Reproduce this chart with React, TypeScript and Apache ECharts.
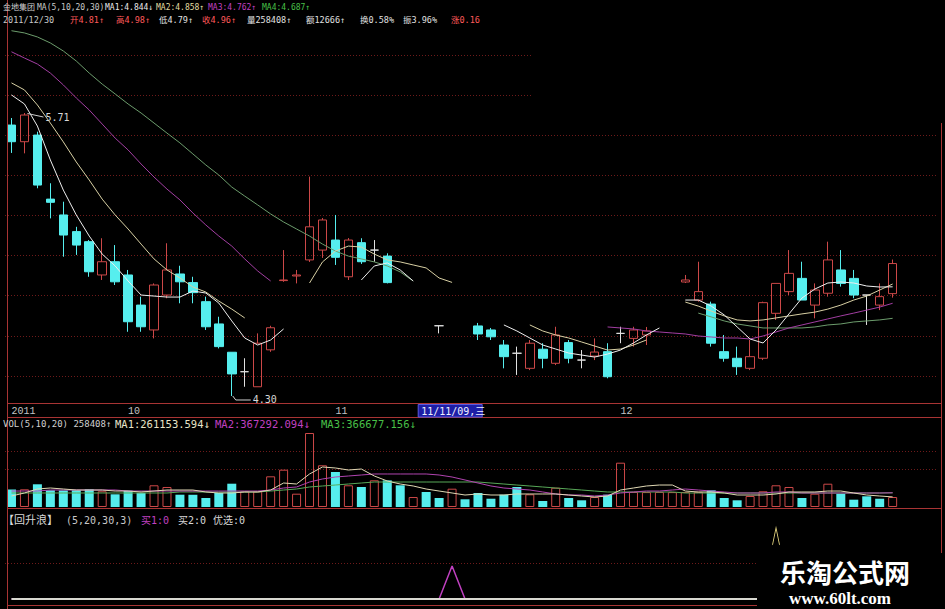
import React, { useEffect, useRef } from "react";
import * as echarts from "echarts";

// ---------------- data ----------------
const dates = [
  "2011/09/20","2011/09/21","2011/09/22","2011/09/23","2011/09/26","2011/09/27","2011/09/28","2011/09/29","2011/09/30",
  "2011/10/10","2011/10/11","2011/10/12","2011/10/13","2011/10/14","2011/10/17","2011/10/18","2011/10/19","2011/10/20","2011/10/21","2011/10/24","2011/10/25","2011/10/26","2011/10/27","2011/10/28","2011/10/31",
  "2011/11/01","2011/11/02","2011/11/03","2011/11/04","2011/11/07","2011/11/08","2011/11/09","2011/11/10","2011/11/11","2011/11/14","2011/11/15","2011/11/16","2011/11/17","2011/11/18","2011/11/21","2011/11/22","2011/11/23","2011/11/24","2011/11/25","2011/11/28","2011/11/29","2011/11/30",
  "2011/12/01","2011/12/02","2011/12/05","2011/12/06","2011/12/07","2011/12/08","2011/12/09","2011/12/12","2011/12/13","2011/12/14","2011/12/15","2011/12/16","2011/12/19","2011/12/20","2011/12/21","2011/12/22","2011/12/23","2011/12/26","2011/12/27","2011/12/28","2011/12/29","2011/12/30",
  "2012/01/04","2012/01/05","2012/01/06"
];

const opens = [
  5.650,5.567,5.600,5.281,5.202,5.119,5.069,4.903,4.969,4.903,
  4.753,4.629,4.803,4.908,4.865,4.770,4.659,4.518,4.421,4.346,
  4.530,4.875,4.898,4.978,5.027,5.077,4.894,5.064,5.027,4.997,
  null,null,null,4.650,null,null,4.649,4.629,4.554,4.513,
  4.438,4.533,4.463,4.566,4.479,4.499,4.521,4.612,4.587,4.604,
  null,null,4.868,4.778,4.758,4.521,4.488,4.438,4.488,4.712,
  4.820,4.886,4.753,4.812,4.928,4.886,4.803,4.753,4.81
];
const closes = [
  5.567,5.700,5.351,5.265,5.102,5.052,4.919,4.969,4.869,4.670,
  4.645,4.853,4.928,4.869,4.815,4.645,4.546,4.410,4.421,4.563,
  4.640,4.878,4.903,5.143,5.177,4.991,5.077,4.969,5.027,4.865,
  null,null,null,4.650,null,null,4.609,4.595,4.496,4.513,
  4.563,4.488,4.604,4.488,4.479,4.519,4.396,4.612,4.629,4.624,
  null,null,4.878,4.820,4.563,4.488,4.446,4.496,4.765,4.861,
  4.911,4.778,4.828,4.978,4.861,4.803,4.803,4.795,4.96
];
const lows = [
  5.511,5.509,5.335,5.185,4.994,5.003,4.894,4.878,4.853,4.620,
  4.620,4.587,4.787,4.762,4.762,4.629,4.537,4.30,4.346,4.346,
  4.520,4.869,4.861,4.968,4.988,4.953,4.878,4.958,4.969,4.861,
  null,null,null,4.612,null,null,4.579,4.579,4.438,4.405,
  4.429,4.438,4.454,4.463,4.438,4.479,4.388,4.563,4.546,4.554,
  null,null,4.863,4.770,4.546,4.471,4.405,4.429,4.479,4.679,
  4.803,4.778,4.687,4.795,4.845,4.787,4.654,4.728,4.79
];
const highs = [
  5.685,5.71,5.617,5.360,5.268,5.143,5.077,5.086,5.052,4.928,
  4.795,4.861,5.061,4.949,4.894,4.795,4.695,4.518,4.488,4.612,
  4.650,5.027,4.928,5.393,5.187,5.202,5.087,5.086,5.077,5.011,
  null,null,null,4.650,null,null,4.664,4.639,4.579,4.546,
  4.579,4.563,4.645,4.579,4.529,4.587,4.563,4.645,4.645,4.644,
  null,null,4.903,4.969,4.770,4.604,4.546,4.579,4.770,4.861,
  5.027,4.969,4.861,5.069,5.027,4.928,4.803,4.861,4.98
];

const ma5 = [
  5.800,5.755,5.645,5.476,5.326,5.202,5.097,5.007,4.948,4.873,
  4.803,4.798,4.793,4.793,4.823,4.813,4.763,4.674,4.589,4.554,
  4.579,4.634,null,null,null,null,null,4.878,4.948,4.963,
  4.928,4.873,null,null,null,null,null,null,4.654,4.624,
  4.589,4.554,4.534,4.514,4.504,4.494,4.509,4.529,4.564,4.604,
  4.639,null,4.778,4.778,4.748,4.704,4.644,4.584,4.564,4.629,
  4.709,4.788,4.833,4.863,4.868,4.863,4.848,4.843,4.844
];
const ma10 = [
  5.860,5.825,5.750,5.660,5.566,5.466,5.376,5.281,5.202,5.132,
  5.057,4.983,4.928,4.888,4.843,4.818,4.773,4.733,4.689,null,
  null,null,null,4.863,4.968,5.022,5.047,5.042,5.007,4.978,
  4.968,4.953,4.938,4.888,4.866,null,null,null,null,null,
  4.654,4.624,4.604,4.589,4.569,4.549,4.529,4.534,4.554,4.579,
  null,null,4.768,4.748,4.723,4.699,4.679,4.674,4.679,4.689,
  4.699,4.709,4.718,4.733,4.753,4.778,4.798,4.828,4.858
];
const ma20 = [
  6.015,5.984,5.954,5.909,5.850,5.785,5.725,5.655,5.585,5.526,
  5.456,5.391,5.331,5.277,5.212,5.152,5.097,5.047,4.983,4.923,
  4.873,null,null,null,null,null,null,null,null,null,
  null,null,null,null,null,null,null,null,null,null,
  null,null,null,null,null,null,4.644,4.639,4.634,4.624,
  4.619,4.614,4.609,4.599,4.594,4.589,4.589,4.584,4.599,4.619,
  4.639,4.654,4.669,4.684,4.699,4.713,4.728,4.743,4.762
];
const ma30 = [
  6.120,6.109,6.089,6.059,6.019,5.969,5.909,5.854,5.805,5.755,
  5.710,5.660,5.610,5.561,5.506,5.451,5.401,5.341,5.296,5.252,
  5.207,5.167,5.132,5.097,5.057,5.022,4.997,4.983,4.968,4.948,
  4.918,4.873,null,null,null,null,null,null,null,null,
  null,null,null,null,null,null,null,null,null,null,
  null,null,null,4.713,4.694,4.674,4.659,4.649,4.639,4.639,
  4.639,4.639,4.644,4.654,4.659,4.669,4.674,4.679,4.687
];

// volume, thousands of shares
const volumes = [
  450,457,587,432,428,433,457,406,328,421,
  362,561,517,318,316,233,362,602,406,404,
  793,964,344,1912,1078,904,561,517,690,688,
  561,258,388,233,473,199,362,214,318,517,
  328,155,499,233,173,258,318,1145,388,386,
  390,385,388,392,431,233,173,284,406,561,
  517,233,344,602,344,189,276,214,258.408
];
const volUp = [
  0,1,0,0,0,0,0,1,0,0,
  0,1,1,0,0,0,0,0,1,1,
  1,1,1,1,1,0,1,0,1,0,
  0,1,0,0,1,0,0,0,0,0,
  1,0,1,0,0,1,0,1,1,1,
  1,1,1,1,0,0,0,1,1,1,
  1,0,1,1,0,0,0,0,1
];
const volMa5 = [
  284,362,465,491,465,439,439,439,413,413,
  388,413,439,439,439,388,362,362,388,388,
  439,620,594,853,1034,1008,956,982,801,672,
  594,543,465,413,362,310,336,310,310,336,
  336,336,336,310,284,258,284,439,491,543,
  568,568,413,388,388,362,310,310,310,336,
  388,388,388,413,413,362,310,284,261.2
];
const volMa10 = [
  413,413,413,439,439,439,439,439,439,413,
  413,413,413,413,413,413,413,413,413,413,
  439,491,517,646,724,775,801,827,853,853,
  853,853,853,827,775,698,620,543,491,465,
  439,388,336,310,310,284,310,362,388,413,
  413,439,465,439,413,388,362,362,362,388,
  388,362,362,362,362,362,362,362,367.3
];
const volMa20 = [
  362,362,362,362,362,362,362,362,362,362,
  362,362,362,388,388,388,388,388,388,388,
  413,439,465,517,543,568,594,620,646,646,
  646,646,646,646,646,646,646,620,594,568,
  543,517,491,465,439,413,388,388,388,388,
  388,388,362,362,362,362,362,362,362,362,
  362,362,362,362,362,362,362,362,366.7
];

// 回升浪 indicator
const buy1 = [
  0,0,0,0,0,0,0,0,0,0, 0,0,0,0,0,0,0,0,0,0, 0,0,0,0,0,0,0,0,0,0,
  0,0,0,0,1,0,0,0,0,0, 0,0,0,0,0,0,0,0,0,0, 0,0,0,0,0,0,0,0,0,0,
  0,0,0,0,0,0,0,0,0
];
const buy2 = [
  0,0,0,0,0,0,0,0,0,0, 0,0,0,0,0,0,0,0,0,0, 0,0,0,0,0,0,0,0,0,0,
  0,0,0,0,0,0,0,0,0,0, 0,0,0,0,0,0,0,0,0,0, 0,0,0,0,0,0,0,0,0,0,
  0,0,0,0,0,0,0,0,0
];
const pickIndex = 59;
const pickLevel = 1.9;

const priceGridLevels = [4.4, 4.6, 4.8, 5.0, 5.2, 5.4, 5.6, 5.8, 6.0];
const volGridLevels = [974, 1439];
const indGridLevels = [1.09];

const cursorLabel = "11/11/09,三";

// ---------------- styles ----------------
const MONO = "'DejaVu Sans Mono','Noto Sans CJK SC',monospace";
const RED = "#cc4848";
const CYAN = "#56eeee";
const DOJI = "#e0e0e0";
const GRIDC = "#6e1a1a";
const BORDER = "#a83434";
const TRED = "#ff5a5a";
const MAG = "#c040c0";
const GRN = "#48c048";

function txt(x: number, y: number, text: string, fill: string, size: number, extra: any = {}) {
  return {
    type: "text",
    x,
    y,
    z: 100,
    silent: true,
    style: {
      text,
      fill,
      font: `${size}px ${MONO}`,
      textVerticalAlign: "middle",
      verticalAlign: "middle",
      ...extra,
    },
  };
}
function hline(y: number, x1: number, x2: number, color = BORDER, z = 5) {
  return { type: "line", z, silent: true, shape: { x1, y1: y, x2, y2: y }, style: { stroke: color, lineWidth: 1 } };
}
function vline(x: number, y1: number, y2: number, color = BORDER, z = 5) {
  return { type: "line", z, silent: true, shape: { x1: x, y1, x2: x, y2 }, style: { stroke: color, lineWidth: 1 } };
}

export default function App() {
  const ref = useRef<HTMLDivElement>(null);

  useEffect(() => {
    document.body.style.margin = "0";
    document.body.style.background = "#000";
    const chart = echarts.init(ref.current!, null, { renderer: "svg" });

    const candleData = opens.map((o, i) => {
      if (o == null) return ["-", "-", "-", "-"];
      const v = [o, closes[i], lows[i], highs[i]];
      if (o === closes[i]) {
        return { value: v, itemStyle: { color: DOJI, color0: DOJI, borderColor: DOJI, borderColor0: DOJI } };
      }
      return v;
    });
    const nz = (a: (number | null)[]) => a.map((v) => (v == null ? "-" : v));

    const isLabelIdx = (idx: number) =>
      idx === 0 || (idx < dates.length && dates[idx].slice(0, 7) !== dates[idx - 1].slice(0, 7));

    const xAxes = [0, 1, 2].map((g) => ({
      type: "category",
      gridIndex: g,
      data: dates,
      boundaryGap: true,
      axisLine: { show: false },
      axisTick: { show: false },
      splitLine: { show: false },
      axisLabel:
        g === 0
          ? {
              show: true,
              interval: (idx: number) => isLabelIdx(idx),
              showMinLabel: true,
              showMaxLabel: false,
              align: "left",
              margin: 3,
              color: "#c4c4c4",
              fontSize: 10,
              fontFamily: "'Liberation Mono','DejaVu Sans Mono',monospace",
              formatter: (val: string, idx: number) => {
                if (idx === 0 || val.slice(0, 4) !== dates[idx - 1].slice(0, 4)) return val.slice(0, 4);
                return String(parseInt(val.slice(5, 7), 10));
              },
            }
          : { show: false },
    }));

    const maLine = (name: string, data: any[], color: string, xi: number, width = 1) => ({
      name,
      type: "line",
      xAxisIndex: xi,
      yAxisIndex: xi,
      data,
      showSymbol: false,
      symbol: "none",
      connectNulls: false,
      z: 3,
      lineStyle: { color, width },
      silent: true,
    });

    const option: any = {
      animation: false,
      backgroundColor: "#000",
      grid: [
        { left: 5, top: 30, width: 933, height: 373 },
        { left: 5, top: 431, width: 933, height: 76 },
        { left: 5, top: 533, width: 933, height: 66 },
      ],
      xAxis: xAxes,
      yAxis: [
        { gridIndex: 0, type: "value", min: 4.2651, max: 6.1236, show: false },
        { gridIndex: 1, type: "value", min: 0, max: 1964, show: false },
        { gridIndex: 2, type: "value", min: 0, max: 2, show: false },
      ],
      series: [
        {
          name: "K",
          type: "candlestick",
          xAxisIndex: 0,
          yAxisIndex: 0,
          data: candleData,
          barWidth: 9,
          z: 2,
          silent: true,
          itemStyle: {
            color: "rgba(0,0,0,0)",
            color0: CYAN,
            borderColor: RED,
            borderColor0: CYAN,
            borderWidth: 1,
          },
          markLine: {
            silent: true,
            z: 1,
            symbol: ["none", "none"],
            label: { show: false },
            lineStyle: { color: GRIDC, type: [1, 2], width: 1 },
            data: priceGridLevels.map((v) => ({ yAxis: v })),
          },
        },
        maLine("MA30", nz(ma30), "#6c9c6c", 0),
        maLine("MA20", nz(ma20), "#a23ea2", 0),
        maLine("MA10", nz(ma10), "#d8d0a4", 0),
        maLine("MA5", nz(ma5), "#eeeeee", 0),
        {
          name: "VOL",
          type: "bar",
          xAxisIndex: 1,
          yAxisIndex: 1,
          barWidth: 9,
          silent: true,
          z: 2,
          data: volumes.map((v, i) => ({
            value: v,
            itemStyle: volUp[i]
              ? { color: "rgba(0,0,0,0)", borderColor: RED, borderWidth: 1 }
              : { color: CYAN, borderWidth: 0 },
          })),
          markLine: {
            silent: true,
            z: 1,
            symbol: ["none", "none"],
            label: { show: false },
            lineStyle: { color: GRIDC, type: [1, 2], width: 1 },
            data: volGridLevels.map((v) => ({ yAxis: v })),
          },
        },
        maLine("VMA20", volMa20, "#58a858", 1),
        maLine("VMA10", volMa10, "#b044b0", 1),
        maLine("VMA5", volMa5, "#e0d8b4", 1),
        {
          ...maLine("买1", buy1, "#c040c0", 2, 1.5),
          z: 3,
        },
        {
          ...maLine("买2", buy2, "#d8d8d0", 2, 2),
          z: 4,
          markLine: {
            silent: true,
            z: 1,
            symbol: ["none", "none"],
            label: { show: false },
            lineStyle: { color: GRIDC, type: [1, 2], width: 1 },
            data: indGridLevels.map((v) => ({ yAxis: v })),
          },
          markPoint: {
            silent: true,
            z: 6,
            symbol: "path://M0,17L3.5,0L7,17",
            symbolSize: [7, 17],
            itemStyle: { color: "rgba(0,0,0,0)", borderColor: "#e8d880", borderWidth: 1.2 },
            label: { show: false },
            data: [{ coord: [pickIndex, pickLevel] }],
          },
        },
      ],
    };

    chart.setOption(option);

    // annotations placed via the chart's own scales
    let hiIdx = 0;
    let loIdx = 0;
    highs.forEach((h, i) => {
      if (h != null && h > (highs[hiIdx] as number)) hiIdx = i;
    });
    lows.forEach((l, i) => {
      if (l != null && l < (lows[loIdx] as number)) loIdx = i;
    });
    const hiVal = highs[hiIdx] as number;
    const loVal = lows[loIdx] as number;
    const ph = chart.convertToPixel({ gridIndex: 0 }, [hiIdx, hiVal]) as number[];
    const pl = chart.convertToPixel({ gridIndex: 0 }, [loIdx, loVal]) as number[];
    const cursorIdx = dates.indexOf("2011/11/09");
    const pc = chart.convertToPixel({ gridIndex: 0 }, [cursorIdx, 5]) as number[];

    const graphics: any[] = [
      // borders
      vline(7.5, 0, 609),
      vline(941.5, 123, 553),
      hline(403.5, 7, 941),
      hline(417.5, 7, 941),
      hline(508.5, 7, 941),
      hline(605.5, 7, 757),
      // header line 1
      txt(3, 7.5, "金地集团", "#d0d0d0", 8),
      txt(37, 7.5, "MA(5,10,20,30)", "#c8c8c8", 8),
      txt(105, 7.5, "MA1:4.844↓", "#eaeaea", 8),
      txt(156, 7.5, "MA2:4.858↑", "#e2dca0", 8),
      txt(208, 7.5, "MA3:4.762↑", MAG, 8),
      txt(262, 7.5, "MA4:4.687↑", GRN, 8),
      // header line 2
      txt(3, 19.5, "2011/12/30", "#c8c8c8", 8.5),
      txt(70, 19.5, "开4.81↑", TRED, 8.5),
      txt(116, 19.5, "高4.98↑", TRED, 8.5),
      txt(159, 19.5, "低4.79↑", "#e0e0e0", 8.5),
      txt(202, 19.5, "收4.96↑", TRED, 8.5),
      txt(247, 19.5, "量258408↑", "#e0e0e0", 8.5),
      txt(306, 19.5, "额12666↑", "#e0e0e0", 8.5),
      txt(360, 19.5, "换0.58%", "#e0e0e0", 8.5),
      txt(403, 19.5, "振3.96%", "#e0e0e0", 8.5),
      txt(451, 19.5, "涨0.16", TRED, 8.5),
      // top-right cover
      { type: "rect", z: 60, silent: true, shape: { x: 532, y: 0, width: 413, height: 123 }, style: { fill: "#000" } },
      // VOL title
      txt(3, 424, "VOL(5,10,20) 258408↑", "#d0d0d0", 9),
      txt(115, 424, "MA1:261153.594↓", "#e8e4c8", 10.5),
      txt(215, 424, "MA2:367292.094↓", MAG, 10.5),
      txt(321, 424, "MA3:366677.156↓", GRN, 10.5),
      // indicator title
      txt(3, 520, "【回升浪】", "#d8d8d8", 11),
      txt(66, 520, "(5,20,30,3)", "#c8c8c8", 10),
      txt(141, 520, "买1:0", MAG, 10),
      txt(178, 520, "买2:0", "#d8d8d8", 10),
      txt(213, 520, "优选:0", "#d8d8d8", 10),
      // extremes
      {
        type: "polyline",
        z: 20,
        silent: true,
        shape: { points: [[ph[0] + 3, ph[1] + 0.5], [ph[0] + 19, ph[1] + 4]] },
        style: { stroke: "#cfcfcf", lineWidth: 1, fill: "none" },
      },
      txt(ph[0] + 21, ph[1] + 4, hiVal.toFixed(2), "#d8d8d8", 10),
      {
        type: "polyline",
        z: 20,
        silent: true,
        shape: { points: [[pl[0] + 1, pl[1]], [pl[0] + 4, pl[1] + 4], [pl[0] + 19, pl[1] + 4]] },
        style: { stroke: "#cfcfcf", lineWidth: 1, fill: "none" },
      },
      txt(pl[0] + 21, pl[1] + 4, loVal.toFixed(2), "#d8d8d8", 10),
      // cursor date box
      {
        type: "rect",
        z: 30,
        silent: true,
        shape: { x: pc[0] + 5, y: 404.5, width: 64, height: 12.5 },
        style: { fill: "#1e1ea6", stroke: "#5a5ae0", lineWidth: 1 },
      },
      txt(pc[0] + 8, 411, cursorLabel, "#f0f0ff", 10),
      // watermark
      { type: "rect", z: 60, silent: true, shape: { x: 757, y: 553, width: 188, height: 56 }, style: { fill: "#000" } },
      {
        type: "text",
        z: 61,
        silent: true,
        x: 845,
        y: 571,
        style: {
          text: "乐淘公式网",
          fill: "#ffffff",
          font: "bold 26px 'Noto Sans CJK SC'",
          textAlign: "center",
          align: "center",
          textVerticalAlign: "middle",
          verticalAlign: "middle",
        },
      },
      {
        type: "text",
        z: 61,
        silent: true,
        x: 840,
        y: 598,
        style: {
          text: "www.60lt.com",
          fill: "#ffffff",
          font: "bold 17px 'Liberation Serif','DejaVu Serif',serif",
          textAlign: "center",
          align: "center",
          textVerticalAlign: "middle",
          verticalAlign: "middle",
        },
      },
    ];

    chart.setOption({ graphic: graphics });

    return () => chart.dispose();
  }, []);

  return (
    <div
      ref={ref}
      style={{ position: "fixed", left: 0, top: 0, width: 945, height: 609, background: "#000" }}
    />
  );
}
